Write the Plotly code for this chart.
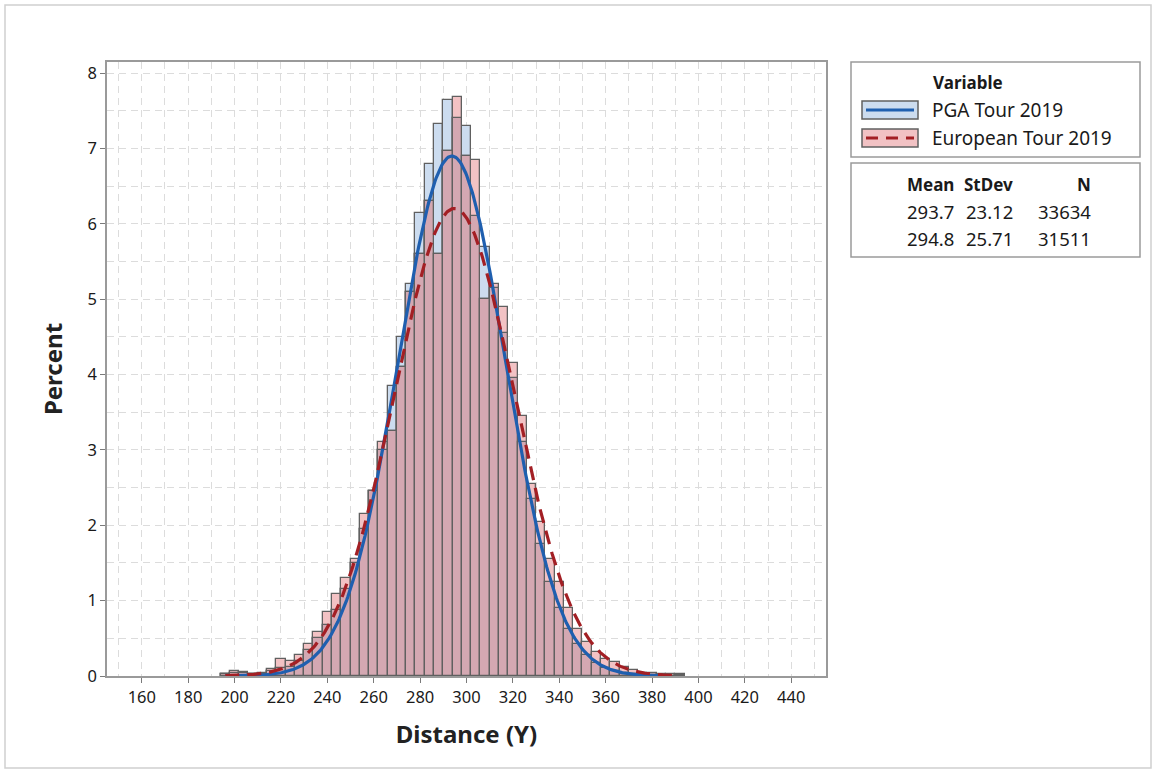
import numpy as np
import plotly.graph_objects as go

# ---------------- data ----------------
bin_centers = [196, 200, 204, 208, 212, 216, 220, 224, 228, 232, 236, 240, 244, 248,
               252, 256, 260, 264, 268, 272, 276, 280, 284, 288, 292, 296, 300, 304,
               308, 312, 316, 320, 324, 328, 332, 336, 340, 344, 348, 352, 356, 360,
               364, 368, 372, 376, 380, 384, 388, 392]
pga_pct = [0.02, 0.04, 0.04, 0.02, 0.03, 0.06, 0.10, 0.12, 0.20, 0.35, 0.50, 0.68, 0.88, 1.15,
           1.50, 1.95, 2.45, 3.00, 3.85, 4.50, 5.20, 6.15, 6.80, 7.33, 7.65, 7.41, 7.30, 6.10,
           5.70, 5.15, 4.55, 3.95, 3.10, 2.35, 1.75, 1.25, 0.90, 0.62, 0.42, 0.28, 0.17, 0.11,
           0.07, 0.04, 0.03, 0.02, 0.01, 0.01, 0.00, 0.01]
euro_pct = [0.03, 0.06, 0.05, 0.03, 0.04, 0.09, 0.22, 0.20, 0.28, 0.43, 0.58, 0.85, 1.09, 1.30,
            1.55, 2.15, 2.45, 3.10, 3.25, 4.10, 5.10, 5.60, 6.30, 5.60, 6.97, 7.68, 6.90, 6.85,
            5.00, 5.20, 4.90, 4.15, 3.45, 2.55, 2.05, 1.55, 1.25, 0.90, 0.62, 0.45, 0.32, 0.22,
            0.18, 0.12, 0.08, 0.04, 0.04, 0.02, 0.02, 0.02]
bin_width = 4
series_names = ["PGA Tour 2019", "European Tour 2019"]
means = [293.7, 294.8]
stdevs = [23.12, 25.71]
counts = [33634, 31511]
x_ticks = list(range(160, 441, 20))
y_ticks = list(range(0, 9))

# ---------------- styling ----------------
FONT = "Noto Sans"
BLUE_FILL = "#CCDCEF"
PINK_FILL = "#F2C2C4"
OVER_FILL = "#D4A8B2"
EDGE = "#606060"
BLUE_LINE = "#1F5FAF"
RED_LINE = "#A31F24"
TXT = "#1a1a1a"

W, H = 1157, 774
L, R, T, B = 107, 826, 62, 676  # plot area in px


def px(x):
    return (x - L) / (R - L)


def py(y):
    return (B - y) / (B - T)


fig = go.Figure()

pga = np.array(pga_pct)
euro = np.array(euro_pct)
overlap = np.minimum(pga, euro)

for vals, fill in [(pga, BLUE_FILL), (euro, PINK_FILL), (overlap, OVER_FILL)]:
    fig.add_trace(go.Bar(
        x=bin_centers, y=vals, width=bin_width,
        marker=dict(color=fill, line=dict(color=EDGE, width=1.3)),
        showlegend=False, hoverinfo="skip"))

# fitted normal curves
for m, s, col, dash, lo, hi in [(means[0], stdevs[0], BLUE_LINE, "solid", 196, 384),
                                (means[1], stdevs[1], RED_LINE, "14px,8px", 196, 392)]:
    xs = np.linspace(lo, hi, 400)
    ys = 100 * bin_width / (s * np.sqrt(2 * np.pi)) * np.exp(-0.5 * ((xs - m) / s) ** 2)
    fig.add_trace(go.Scatter(x=xs, y=ys, mode="lines",
                             line=dict(color=col, width=3.2, dash=dash),
                             showlegend=False, hoverinfo="skip"))

grid = dict(showgrid=True, gridcolor="#DCDCDC", gridwidth=1, griddash="7px,5px")

fig.update_xaxes(range=[145, 455], tickvals=x_ticks, ticks="outside", ticklen=5,
                 tickcolor="#7a7a7a", showline=True, linecolor="#9a9a9a", linewidth=1.5,
                 mirror=True, zeroline=False,
                 tickfont=dict(family=FONT, size=16.5, color=TXT),
                 title=dict(text="<b>Distance (Y)</b>", font=dict(family=FONT, size=24, color="#222"),
                            standoff=20),
                 minor=dict(dtick=10, tick0=0, showgrid=True, gridcolor="#DCDCDC",
                            griddash="7px,5px", ticks=""),
                 **grid)
fig.update_yaxes(range=[0, 8.15], tickvals=y_ticks, ticks="outside", ticklen=5,
                 tickcolor="#7a7a7a", showline=True, linecolor="#9a9a9a", linewidth=1.5,
                 mirror=True, zeroline=False,
                 tickfont=dict(family=FONT, size=16.5, color=TXT),
                 title=dict(text="<b>Percent</b>", font=dict(family=FONT, size=24, color="#222"),
                            standoff=18),
                 minor=dict(dtick=0.5, tick0=0, showgrid=True, gridcolor="#DCDCDC",
                            griddash="7px,5px", ticks=""),
                 **grid)

shapes = []
annotations = []

# outer frame
shapes.append(dict(type="rect", xref="paper", yref="paper", x0=px(5), x1=px(1151),
                   y0=py(5), y1=py(768), line=dict(color="#D0D0D0", width=1.5), layer="below"))

# legend box 1
shapes.append(dict(type="rect", xref="paper", yref="paper", x0=px(851), x1=px(1140),
                   y0=py(62), y1=py(157), line=dict(color="#9a9a9a", width=1.5)))
annotations.append(dict(xref="paper", yref="paper", x=px(931), y=py(82), text="<b>Variable</b>",
                        showarrow=False, xanchor="left", yanchor="middle",
                        font=dict(family=FONT, size=17, color=TXT)))
sw = [(110, BLUE_FILL, BLUE_LINE, "solid"), (138, PINK_FILL, RED_LINE, "dash")]
for (yc, fill, col, dash), name in zip(sw, series_names):
    shapes.append(dict(type="rect", xref="paper", yref="paper", x0=px(862), x1=px(918),
                       y0=py(yc - 9), y1=py(yc + 9), fillcolor=fill,
                       line=dict(color=EDGE, width=1.5)))
    shapes.append(dict(type="line", xref="paper", yref="paper", x0=px(866), x1=px(914),
                       y0=py(yc), y1=py(yc), line=dict(color=col, width=3,
                                                       dash="12px,8px" if dash == "dash" else "solid")))
    annotations.append(dict(xref="paper", yref="paper", x=px(930), y=py(yc), text=name,
                            showarrow=False, xanchor="left", yanchor="middle",
                            font=dict(family=FONT, size=19, color=TXT)))

# legend box 2 (statistics)
shapes.append(dict(type="rect", xref="paper", yref="paper", x0=px(851), x1=px(1140),
                   y0=py(163), y1=py(257), line=dict(color="#9a9a9a", width=1.5)))
hdr_y = 184
for txt, xr in [("Mean", 956), ("StDev", 1015), ("N", 1093)]:
    annotations.append(dict(xref="paper", yref="paper", x=px(xr), y=py(hdr_y), text=f"<b>{txt}</b>",
                            showarrow=False, xanchor="right", yanchor="middle",
                            font=dict(family=FONT, size=17, color=TXT)))
for i, yr in enumerate([211, 238]):
    for txt, xr in [(f"{means[i]:.1f}", 956), (f"{stdevs[i]:.2f}", 1015), (f"{counts[i]}", 1093)]:
        annotations.append(dict(xref="paper", yref="paper", x=px(xr), y=py(yr), text=txt,
                                showarrow=False, xanchor="right", yanchor="middle",
                                font=dict(family=FONT, size=18.5, color=TXT)))

fig.update_layout(
    width=W, height=H, barmode="overlay", bargap=0,
    margin=dict(l=L, r=W - R, t=T, b=H - B, pad=0),
    paper_bgcolor="white", plot_bgcolor="white",
    shapes=shapes, annotations=annotations, showlegend=False,
    font=dict(family=FONT),
)

fig.write_html("out.html")
